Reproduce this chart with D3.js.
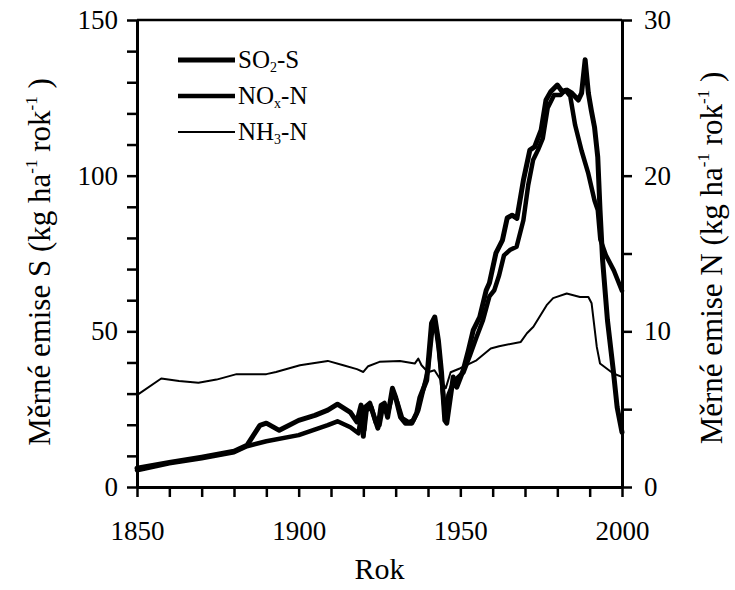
<!DOCTYPE html>
<html>
<head>
<meta charset="utf-8">
<script src="https://cdn.jsdelivr.net/npm/d3@7"></script>
<style>
  body { margin: 0; background: #fff; }
  svg { display: block; }
  text { font-family: 'Liberation Serif', 'DejaVu Serif', serif; fill: #000; }
  .axis path, .axis line { stroke: #000; }
  .axis text { font-size: 27px; }
</style>
</head>
<body>
<svg id="chart" width="735" height="590" font-family="Liberation Serif"></svg>
<script>
// values; SO2 in kg S, NOx and NH3 in kg N
const so2 = [
  [1850, 6.0], [1860, 7.9], [1870, 9.6], [1880, 11.5], [1884, 13.4], [1888, 19.8],
  [1890, 20.5], [1894, 18.2], [1900, 21.4], [1905, 23.0], [1909, 24.7], [1912, 26.6],
  [1916, 24.0], [1918, 20.9], [1919.3, 26.3], [1920, 16.3], [1920.7, 25.7], [1922, 26.9],
  [1923.5, 22.1], [1924.5, 18.9], [1925.5, 26.2], [1926.5, 26.9], [1927.5, 22.4],
  [1929, 31.7], [1930, 28.8], [1931.5, 22.4], [1933, 20.5], [1935, 20.5], [1936.5, 23.7],
  [1937.5, 28.8], [1939.6, 34.3], [1941.1, 52.6], [1942.1, 54.6], [1943.2, 47.2],
  [1944.2, 36.5], [1945.2, 21.4], [1945.8, 20.5], [1946.8, 27.9], [1947.8, 35.3],
  [1948.9, 32.1], [1950.9, 37.5], [1952.5, 43.9], [1954, 50.4], [1956, 54.6],
  [1958, 63.2], [1959, 65.5], [1961, 75.1], [1963, 79.2], [1964.5, 86.4], [1966, 87.3],
  [1967.5, 86.3], [1969.5, 98.5], [1971.5, 108.2], [1973, 109.3], [1975, 114.7],
  [1976.5, 124.3], [1978, 127], [1980, 129.1], [1981.5, 127], [1983, 127.5],
  [1984.5, 126.5], [1986.5, 124.3], [1987.5, 126.5], [1988.6, 137.2], [1989.6, 126.5],
  [1990.5, 121], [1991.5, 115.6], [1992.5, 106], [1993.2, 89], [1994, 72.9],
  [1995.5, 53.6], [1997.3, 37.5], [1998.5, 25.6], [2000, 17.6]
];

const nox = [
  [1850, 1.07], [1860, 1.52], [1870, 1.85], [1880, 2.23], [1884, 2.62], [1890, 2.94],
  [1900, 3.33], [1909, 3.97], [1912, 4.22], [1916, 3.84], [1918.5, 3.45], [1919.5, 4.93],
  [1920.3, 3.64], [1921, 4.93], [1922.5, 5.12], [1923.8, 4.16], [1925, 3.97], [1926, 5.12],
  [1927.5, 4.67], [1929.2, 6.09], [1930.5, 5.45], [1932, 4.42], [1934, 4.16],
  [1935.5, 4.29], [1937, 4.93], [1938.5, 6.22], [1940, 7.5], [1941.3, 10.1],
  [1942.3, 10.4], [1943.3, 8.92], [1944.4, 6.54], [1945.4, 4.42], [1946.3, 5.9],
  [1947.5, 6.54], [1949, 6.99], [1951, 7.37], [1953, 8.47], [1955, 9.62], [1957, 10.72],
  [1959, 12.25], [1960.5, 12.64], [1962, 13.6], [1963.5, 14.88], [1965.3, 15.22],
  [1967.4, 15.43], [1969.5, 17.14], [1971, 19.4], [1972.5, 21.0], [1974, 21.64],
  [1975.5, 22.4], [1977, 24.34], [1979, 25.18], [1981, 25.18], [1982.5, 25.5],
  [1984, 25.1], [1985.5, 23.25], [1987.5, 21.6], [1989.5, 20.2], [1991.5, 18.4],
  [1992.5, 17.8], [1993.3, 15.9], [1995, 14.9], [1997.5, 13.9], [2000, 12.6]
];

const nh3 = [
  [1850, 5.9], [1857.5, 6.97], [1863, 6.81], [1869, 6.69], [1874.6, 6.9], [1880.8, 7.25],
  [1890, 7.25], [1893, 7.39], [1900.4, 7.82], [1909, 8.1], [1913.8, 7.82], [1918, 7.57],
  [1920, 7.39], [1921.5, 7.76], [1925, 8.04], [1931.3, 8.1], [1935.9, 7.93], [1937, 8.25],
  [1938, 7.82], [1940, 7.37], [1942, 7.5], [1944, 6.86], [1945.5, 6.35], [1947, 7.37],
  [1950, 7.63], [1955, 8.14], [1959.4, 8.9], [1962, 9.04], [1968.7, 9.32], [1970.6, 9.88],
  [1972.6, 10.29], [1976.7, 11.68], [1978.7, 12.13], [1982.9, 12.43], [1987, 12.21],
  [1989.6, 12.21], [1990.6, 11.8], [1992.2, 9.0], [1993.2, 7.93], [1997.3, 7.29],
  [2000, 7.07]
];

const yearTicks = d3.range(1850, 2001, 10);
const yearLabels = [1850, 1900, 1950, 2000];
const sTicks = d3.range(0, 151, 10);
const sLabels = [0, 50, 100, 150];
const nTicks = d3.range(0, 31, 5);
const nLabels = [0, 10, 20, 30];

const legendItems = [
  {name: 'SO', sub: '2', rest: '-S', data: so2, axis: 'S', width: 5},
  {name: 'NO', sub: 'x', rest: '-N', data: nox, axis: 'N', width: 4.5},
  {name: 'NH', sub: '3', rest: '-N', data: nh3, axis: 'N', width: 2}
];

const FONT = 'Liberation Serif';
const svg = d3.select('#chart');
const plotL = 137, plotR = 622, plotT = 20, plotB = 487;

const x = d3.scaleLinear().domain([1850, 2000]).range([plotL, plotR]);
const yS = d3.scaleLinear().domain([0, 150]).range([plotB, plotT]);
const yN = d3.scaleLinear().domain([0, 30]).range([plotB, plotT]);

// top border
svg.append('line')
  .attr('x1', plotL).attr('x2', plotR)
  .attr('y1', plotT).attr('y2', plotT)
  .attr('stroke', '#000').attr('stroke-width', 2.5);

const fmt = (list) => (d) => list.includes(d) ? d : '';

svg.append('g').attr('class', 'axis')
  .attr('transform', `translate(0,${plotB})`)
  .call(d3.axisBottom(x).tickValues(yearTicks).tickFormat(fmt(yearLabels))
    .tickSize(10).tickSizeOuter(0).tickPadding(24));

svg.append('g').attr('class', 'axis')
  .attr('transform', `translate(${plotL},0)`)
  .call(d3.axisLeft(yS).tickValues(sTicks).tickFormat(fmt(sLabels))
    .tickSize(10).tickSizeOuter(0).tickPadding(9));

svg.append('g').attr('class', 'axis')
  .attr('transform', `translate(${plotR},0)`)
  .call(d3.axisRight(yN).tickValues(nTicks).tickFormat(fmt(nLabels))
    .tickSize(10).tickSizeOuter(0).tickPadding(12));

svg.selectAll('.axis').attr('font-family', FONT).attr('font-size', 27);
svg.selectAll('.axis path').attr('stroke-width', 3);
svg.selectAll('.axis line').attr('stroke-width', 2.5);

// series
legendItems.forEach(function(item) {
  const yScale = item.axis === 'S' ? yS : yN;
  const line = d3.line()
    .x(d => x(d[0]))
    .y(d => yScale(d[1]));
  svg.append('path')
    .datum(item.data)
    .attr('d', line)
    .attr('fill', 'none')
    .attr('stroke', '#000')
    .attr('stroke-width', item.width)
    .attr('stroke-linejoin', 'round')
    .attr('stroke-linecap', 'round');
});

// legend
const legend = svg.append('g').attr('transform', 'translate(178,60)');
legendItems.forEach(function(item, i) {
  const row = legend.append('g').attr('transform', `translate(0,${i * 36})`);
  row.append('line')
    .attr('x1', 0).attr('x2', 57)
    .attr('stroke', '#000').attr('stroke-width', item.width);
  const t = row.append('text')
    .attr('x', 60).attr('y', 8)
    .attr('font-family', FONT)
    .attr('font-size', 25);
  t.append('tspan').text(item.name);
  t.append('tspan').attr('font-size', 14).attr('dy', 4).text(item.sub);
  t.append('tspan').attr('dy', -4).text(item.rest);
});

// axis titles
function unitTitle(g, prefix) {
  const t = g.append('text')
    .attr('text-anchor', 'middle')
    .attr('font-family', FONT)
    .attr('font-size', 31);
  t.append('tspan').text(prefix + ' (kg ha');
  t.append('tspan').attr('font-size', 17).attr('dy', -13).text('-1');
  t.append('tspan').attr('dy', 13).text(' rok');
  t.append('tspan').attr('font-size', 17).attr('dy', -13).text('-1');
  t.append('tspan').attr('dy', 13).text(' )');
  return t;
}

unitTitle(svg.append('g').attr('transform', 'translate(50,262) rotate(-90)'), 'Měrné emise S');
unitTitle(svg.append('g').attr('transform', 'translate(722,258) rotate(-90)'), 'Měrné emise N');

svg.append('text')
  .attr('x', (plotL + plotR) / 2)
  .attr('y', 579)
  .attr('text-anchor', 'middle')
  .attr('font-family', FONT)
  .attr('font-size', 30)
  .text('Rok');
</script>
</body>
</html>
